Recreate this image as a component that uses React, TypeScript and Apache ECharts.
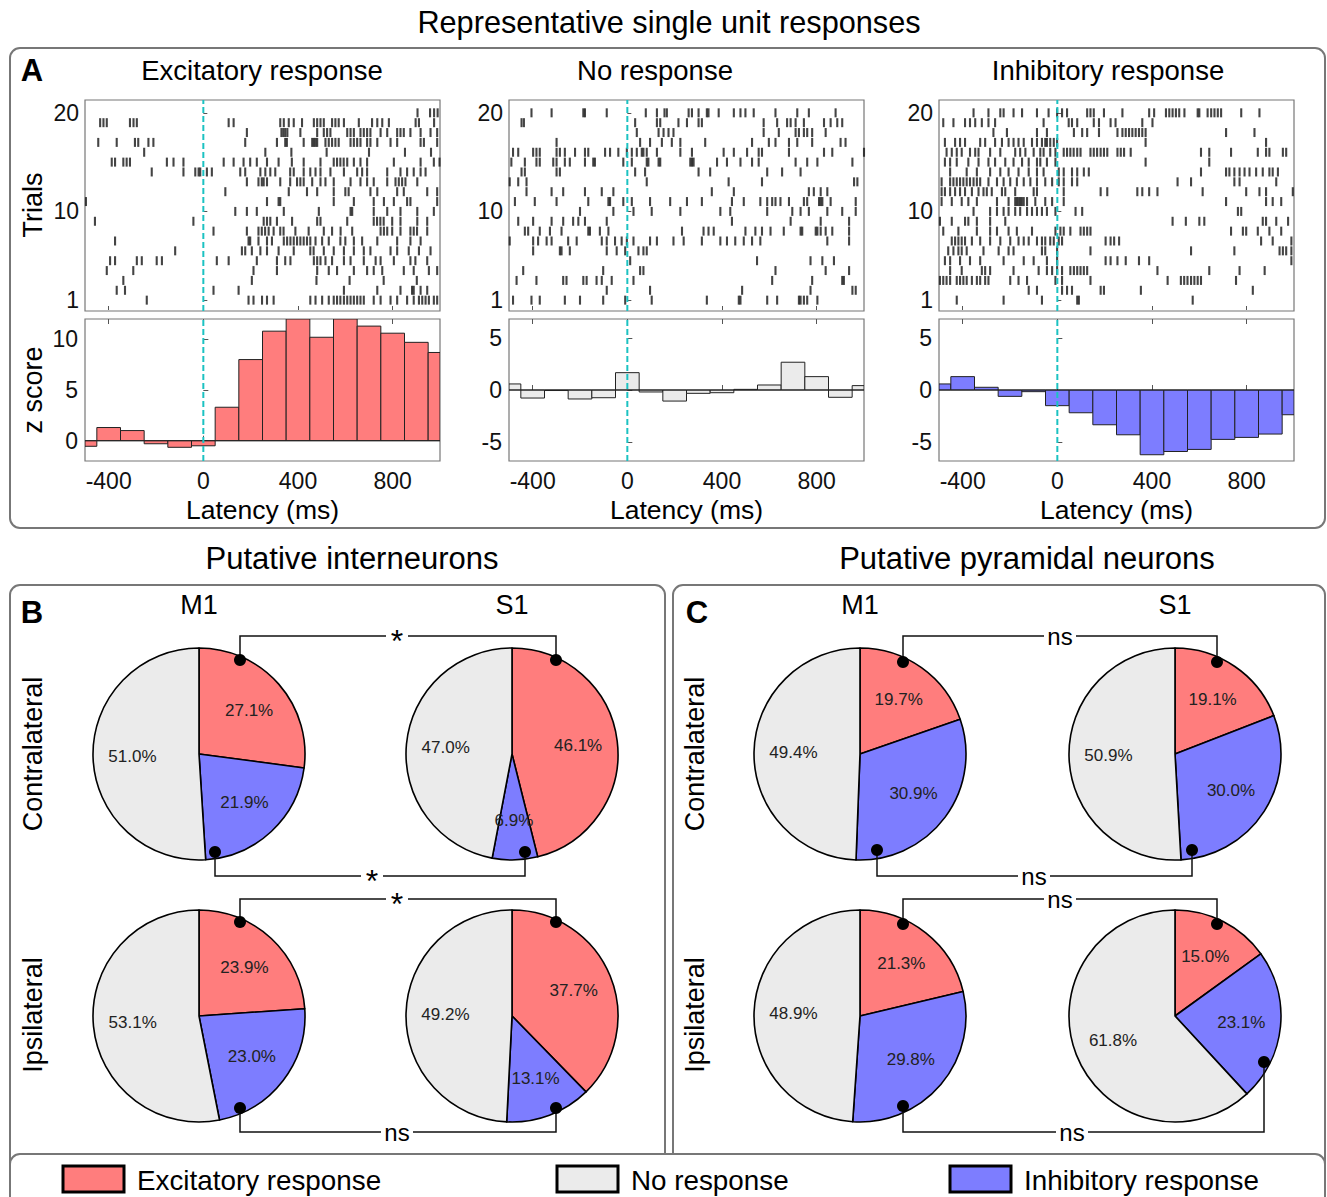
import React, { useEffect, useRef } from "react";
import * as echarts from "echarts";

const FONT = "Liberation Sans, Arial, Helvetica, sans-serif";

// ---------- Panel A data ----------
// spike times (ms) per trial, listed from trial 20 (top) down to trial 1 (bottom)
const excitatorySpikes: number[][] = [
  [905, 958, 975, 990],
  [-436, -422, -408, -310, -295, -281, 107, 128, 325, 340, 361, 382, 417, 467, 481, 495, 509, 544, 558, 572, 594, 657, 713, 735, 756, 784, 897, 911, 975],
  [184, 330, 338, 346, 355, 410, 481, 509, 523, 537, 608, 622, 636, 664, 678, 692, 706, 749, 777, 819, 833, 847, 875, 918, 960, 988],
  [-444, -366, -289, -275, -232, -211, 177, 311, 346, 353, 424, 460, 467, 474, 481, 516, 530, 544, 558, 572, 622, 636, 650, 664, 692, 706, 735, 791, 819, 918, 932, 988],
  [-250, 262, 372, 521, 700, 852, 962],
  [-387, -373, -338, -324, -310, -154, -126, -84, 86, 128, 170, 198, 226, 269, 318, 374, 424, 495, 551, 565, 579, 593, 608, 636, 664, 692, 805, 918, 974, 998],
  [-218, -84, -34, -20, -13, 15, 36, 156, 177, 241, 262, 283, 304, 367, 382, 424, 452, 474, 495, 537, 594, 650, 671, 692, 777, 833, 861, 889, 918, 939],
  [184, 233, 247, 255, 269, 325, 367, 396, 410, 424, 460, 495, 516, 551, 622, 664, 692, 720, 777, 812, 826, 840, 854, 904],
  [93, 361, 438, 481, 551, 600, 614, 706, 735, 819, 847, 946, 988],
  [-496, 269, 318, 325, 551, 636, 720, 763, 805, 861, 875, 988],
  [135, 184, 226, 340, 488, 622, 629, 720, 777, 833, 904, 974],
  [-458, -42, 255, 269, 283, 311, 375, 481, 495, 608, 720, 734, 748, 762, 798, 833, 904, 946],
  [43, 184, 233, 247, 261, 276, 297, 325, 339, 389, 445, 509, 544, 580, 629, 749, 763, 777, 798, 833, 875, 889, 903, 946],
  [-373, 191, 198, 233, 269, 290, 340, 354, 368, 382, 396, 410, 424, 438, 452, 474, 502, 530, 579, 600, 636, 671, 735, 819, 875, 918],
  [-119, 163, 177, 205, 241, 269, 318, 382, 452, 466, 509, 551, 594, 636, 678, 706, 791, 819, 868, 911, 960],
  [-394, -373, -281, -260, -197, -175, 57, 107, 226, 311, 346, 368, 467, 481, 495, 516, 544, 594, 622, 678, 728, 749, 805, 875, 896, 946],
  [-408, -296, 212, 311, 481, 530, 565, 636, 692, 720, 756, 847, 889, 953, 988],
  [-338, 205, 478, 618, 762, 902],
  [-366, -331, 43, 149, 594, 735, 833, 882, 889, 918, 946],
  [-239, 191, 212, 248, 269, 297, 452, 474, 502, 530, 551, 565, 579, 594, 608, 622, 636, 650, 664, 678, 720, 749, 791, 819, 861, 889, 911, 925, 939, 953, 974, 988],
];

const noResponseSpikes: number[][] = [
  [-405, -320, -186, -179, -87, 78, 125, 157, 167, 259, 273, 301, 336, 343, 386, 450, 478, 499, 534, 626, 718, 767, 880],
  [-447, -437, 33, 125, 139, 216, 252, 301, 315, 576, 633, 675, 690, 711, 746, 831, 859, 887, 908],
  [40, 132, 153, 174, 195, 576, 640, 711, 725, 746, 760, 781, 838],
  [-299, 54, 96, 146, 188, 224, 329, 527, 598, 626, 683, 718, 781, 901, 922],
  [-483, -461, -398, -384, -370, -299, -285, -264, -221, -179, -165, -94, -73, -38, -2, 19, 40, 61, 68, 82, 125, 224, 273, 407, 450, 506, 555, 569, 683, 831, 866, 1000],
  [-490, -433, -384, -370, -313, -299, -264, -243, -179, -144, -137, -17, 19, 82, 89, 132, 139, 266, 273, 280, 379, 421, 478, 527, 555, 711, 760, 803, 951],
  [-447, -433, -299, -285, 33, 75, 301, 350, 591, 654, 732],
  [-497, -461, -426, 82, 428, 569, 958, 972],
  [-426, -320, -271, -179, -108, -59, 357, 450, 767, 788, 817, 845],
  [-475, -391, -299, -165, -80, -73, -17, 19, 96, 181, 252, 315, 442, 492, 562, 591, 612, 626, 647, 683, 746, 760, 810, 817, 824, 859, 965],
  [-200, -59, 26, 103, 224, 393, 435, 591, 697, 732, 767, 845, 908, 965],
  [-461, -398, -320, -271, -229, -207, -179, -87, 442, 690, 817, 937],
  [-433, -419, -370, -327, -278, -165, -158, -116, -80, 231, 322, 343, 365, 499, 541, 569, 605, 661, 732, 739, 796, 803, 817, 838, 866, 937],
  [-497, -398, -377, -341, -320, -250, -214, -108, -87, -52, -24, -2, 26, 96, 125, 195, 238, 315, 393, 421, 456, 492, 527, 562, 845, 937],
  [-398, -285, -278, -243, -87, -45, -9, 47, 68, 82],
  [12, 548, 774, 824, 873],
  [-440, -102, 54, 68, 626, 838, 937],
  [-468, -384, -271, -257, -186, -172, -130, -108, -66, 26, 612, 781, 908, 915],
  [-87, 96, 485, 774, 951, 965],
  [-483, -405, -370, -264, -200, -102, -9, 103, 336, 471, 478, 591, 633, 725, 732, 746, 760, 803],
];

const inhibitorySpikes: number[][] = [
  [-354, -291, -241, -227, -185, -149, -86, -37, -1, 20, 41, 126, 140, 154, 197, 275, 388, 409, 459, 473, 487, 501, 515, 537, 593, 600, 635, 650, 664, 678, 692, 777, 854],
  [-482, -439, -390, -369, -347, -319, -291, -263, -58, 48, 62, 84, 154, 176, 225, 246, 359, 402],
  [-270, -213, -86, -44, 70, 105, 126, 176, 254, 275, 289, 303, 317, 331, 345, 359, 373, 713, 833],
  [-475, -432, -411, -390, -326, -305, -263, -234, -206, -185, -164, -142, -107, -86, -65, -51, -44, -30, -15, -1, 373, 882],
  [-468, -446, -425, -404, -369, -347, -333, -284, -241, -178, -157, -135, -100, -72, -58, -30, -8, 27, 41, 55, 69, 84, 98, 140, 154, 168, 183, 197, 211, 254, 268, 282, 310, 607, 642, 734, 847, 882, 896, 953, 967],
  [-475, -453, -425, -376, -333, -291, -263, -220, -185, -149, -121, -86, -72, -44, -8, 373, 642],
  [-453, -383, -340, -284, -241, -206, -164, -121, -86, -58, 6, 27, 62, 84, 112, 133, 607, 713, 727, 748, 770, 791, 812, 840, 868, 896, 910, 932],
  [-489, -453, -439, -425, -411, -397, -383, -369, -354, -340, -326, -291, -255, -227, -199, -171, -142, -114, -86, -51, -22, 6, 27, 62, 84, 508, 565, 748, 770, 925],
  [-489, -475, -453, -432, -411, -390, -361, -333, -312, -298, -277, -234, -220, -178, -100, -86, 27, 183, 211, 338, 359, 388, 423, 614, 798, 854, 882, 995],
  [-489, -446, -404, -376, -340, -255, -206, -178, -171, -164, -157, -150, -142, -128, -93, -51, -22, 27, 713, 882, 910, 946],
  [-354, -284, -255, -227, -206, -178, -157, -128, -107, -86, -65, -44, -8, 77, 105, 763, 777],
  [-496, -446, -390, -376, -340, -284, -220, 487, 543, 600, 621, 868, 882, 925, 975],
  [-482, -418, -340, -284, -255, -206, -171, -107, -8, 13, 27, 55, 98, 112, 126, 140, 734, 784, 798, 847, 896, 946],
  [-446, -432, -418, -404, -390, -361, -326, -284, -241, -199, -164, -142, -121, -86, -65, -51, -30, -15, 6, 20, 204, 225, 240, 261, 861, 910, 989],
  [-461, -439, -418, -404, -383, -312, -248, -206, -185, -65, -51, -1, 140, 565, 748, 939, 953, 967, 989],
  [-475, -453, -411, -369, -326, -227, -142, -100, -44, -1, 204, 225, 254, 289, 345, 388, 989],
  [-453, -404, -319, -305, -284, -185, -79, -44, -22, -1, 20, 55, 70, 84, 98, 112, 126, 423, 642, 770, 876],
  [-496, -482, -468, -453, -425, -411, -397, -383, -361, -340, -326, -305, -291, -199, -164, -128, -8, 20, 140, 466, 522, 536, 550, 565, 579, 593, 607, 755],
  [-121, -86, 20, 41, 62, 183, 197, 353, 826],
  [-425, -227, -65, 84, 91, 572],
];

// PSTH bins (bin centres, ms) and z scores
const binCenters = [-500, -400, -300, -200, -100, 0, 100, 200, 300, 400, 500, 600, 700, 800, 900, 1000];
const excitatoryZ = [-0.55, 1.3, 1.0, -0.3, -0.65, -0.5, 3.3, 8.0, 10.8, 12.0, 10.2, 12.0, 11.3, 10.6, 9.7, 8.7];
const noResponseZ = [0.58, -0.77, -0.05, -0.86, -0.74, 1.66, -0.19, -1.06, -0.32, -0.26, 0.06, 0.48, 2.66, 1.28, -0.7, 0.42];
const inhibitoryZ = [0.58, 1.28, 0.26, -0.61, -0.16, -1.5, -2.18, -3.33, -4.29, -6.2, -5.89, -5.69, -4.73, -4.54, -4.22, -2.37];

const latencyTicks = [-400, 0, 400, 800];
const trialTicks = [1, 10, 20];
const unitTitles = ["Excitatory response", "No response", "Inhibitory response"];

// ---------- Panels B & C data: [excitatory, inhibitory, no response] % ----------
const intM1Contra = [27.1, 21.9, 51.0];
const intS1Contra = [46.1, 6.9, 47.0];
const intM1Ipsi = [23.9, 23.0, 53.1];
const intS1Ipsi = [37.7, 13.1, 49.2];
const pyrM1Contra = [19.7, 30.9, 49.4];
const pyrS1Contra = [19.1, 30.0, 50.9];
const pyrM1Ipsi = [21.3, 29.8, 48.9];
const pyrS1Ipsi = [15.0, 23.1, 61.8];

const RED = "#FF7D7D";
const BLUE = "#7D7DFF";
const GRAY = "#EBEBEB";
const CYAN = "#1CC2C2";

export default function App() {
  const ref = useRef<HTMLDivElement>(null);

  useEffect(() => {
    if (!ref.current) return;
    const chart = echarts.init(ref.current, undefined, { renderer: "svg" });

    const lefts = [85, 509, 939];
    const gw = 355;
    const units = [
      { spikes: excitatorySpikes, z: excitatoryZ, color: RED, ymin: -2, ymax: 12, yt: [0, 5, 10] },
      { spikes: noResponseSpikes, z: noResponseZ, color: GRAY, ymin: -6.8, ymax: 6.8, yt: [-5, 0, 5] },
      { spikes: inhibitorySpikes, z: inhibitoryZ, color: BLUE, ymin: -6.8, ymax: 6.8, yt: [-5, 0, 5] },
    ];
    const titleX = [262, 655, 1108];

    const grid: any[] = [];
    const xAxis: any[] = [];
    const yAxis: any[] = [];
    const series: any[] = [];

    const tickStyle = { color: "#555", width: 1 };
    const labelStyle = { fontSize: 23, color: "#111", fontFamily: FONT };
    const RMIN = -0.1;
    const RMAX = 21.3;

    units.forEach((u, k) => {
      grid.push({ left: lefts[k], top: 100, width: gw, height: 211, show: true, borderColor: "#777", borderWidth: 1.2, backgroundColor: "#fff" });
    });
    units.forEach((u, k) => {
      grid.push({ left: lefts[k], top: 319, width: gw, height: 142, show: true, borderColor: "#777", borderWidth: 1.2, backgroundColor: "#fff" });
    });

    units.forEach((u, k) => {
      xAxis.push({
        gridIndex: k, type: "value", min: -500, max: 1000,
        axisLine: { show: false }, splitLine: { show: false },
        axisTick: { show: true, inside: true, length: 4, lineStyle: tickStyle, customValues: latencyTicks },
        axisLabel: { show: false },
      });
      yAxis.push({
        gridIndex: k, type: "value", min: RMIN, max: RMAX,
        axisLine: { show: false }, splitLine: { show: false },
        axisTick: { show: true, inside: true, length: 4, lineStyle: tickStyle, customValues: trialTicks },
        axisLabel: { ...labelStyle, margin: 6, customValues: trialTicks },
      });
    });
    units.forEach((u, k) => {
      xAxis.push({
        gridIndex: k + 3, type: "value", min: -500, max: 1000,
        axisLine: { show: false }, splitLine: { show: false },
        axisTick: { show: true, inside: true, length: 5, lineStyle: tickStyle, customValues: latencyTicks },
        axisLabel: { ...labelStyle, margin: 8, customValues: latencyTicks },
      });
      yAxis.push({
        gridIndex: k + 3, type: "value", min: u.ymin, max: u.ymax,
        axisLine: { show: false }, splitLine: { show: false },
        axisTick: { show: true, inside: true, length: 5, lineStyle: tickStyle, customValues: u.yt },
        axisLabel: { ...labelStyle, margin: 7, customValues: u.yt },
      });
    });
    // top ticks of the histogram boxes
    units.forEach((u, k) => {
      xAxis.push({
        gridIndex: k + 3, type: "value", min: -500, max: 1000, position: "top",
        axisLine: { show: false }, splitLine: { show: false },
        axisTick: { show: true, inside: true, length: 5, lineStyle: tickStyle, customValues: latencyTicks },
        axisLabel: { show: false },
      });
    });

    units.forEach((u, k) => {
      const pts: number[][] = [];
      u.spikes.forEach((row, i) => {
        const trial = 20 - i;
        row.forEach((t) => pts.push([t, trial]));
      });
      series.push({
        type: "scatter", xAxisIndex: k, yAxisIndex: k, data: pts, symbol: "rect",
        symbolSize: [2.1, 9], itemStyle: { color: "#151515" }, silent: true, clip: true,
      });
      series.push({
        type: "line", xAxisIndex: k, yAxisIndex: k, data: [[0, RMIN], [0, RMAX]], symbol: "none", silent: true,
        lineStyle: { color: CYAN, width: 2, type: [6, 3] }, z: 5,
      });
      const hist = binCenters.map((c, i) => [c, u.z[i]]);
      series.push({
        type: "custom", xAxisIndex: k + 3, yAxisIndex: k + 3, data: hist, clip: true, silent: true,
        renderItem: (params: any, api: any) => {
          const c = api.value(0);
          const z = api.value(1);
          const x0 = Math.max(c - 50, -500);
          const x1 = Math.min(c + 50, 1000);
          const p0 = api.coord([x0, z]);
          const p1 = api.coord([x1, 0]);
          return {
            type: "rect",
            shape: { x: p0[0], y: Math.min(p0[1], p1[1]), width: p1[0] - p0[0], height: Math.abs(p1[1] - p0[1]) },
            style: { fill: u.color, stroke: "#222", lineWidth: 1 },
          };
        },
      });
      series.push({
        type: "line", xAxisIndex: k + 3, yAxisIndex: k + 3, data: [[-500, 0], [1000, 0]], symbol: "none", silent: true,
        lineStyle: { color: "#222", width: 1 }, z: 4,
      });
      series.push({
        type: "line", xAxisIndex: k + 3, yAxisIndex: k + 3, data: [[0, u.ymin], [0, u.ymax]], symbol: "none", silent: true,
        lineStyle: { color: CYAN, width: 2, type: [6, 3] }, z: 5,
      });
    });

    // ---------- pies ----------
    const R = 106;
    const pies = [
      { v: intM1Contra, c: [199, 754] },
      { v: intS1Contra, c: [512, 754] },
      { v: intM1Ipsi, c: [199, 1016] },
      { v: intS1Ipsi, c: [512, 1016] },
      { v: pyrM1Contra, c: [860, 754] },
      { v: pyrS1Contra, c: [1175, 754] },
      { v: pyrM1Ipsi, c: [860, 1016] },
      { v: pyrS1Ipsi, c: [1175, 1016] },
    ];
    const colors = [RED, BLUE, GRAY];
    pies.forEach((p) => {
      series.push({
        type: "pie", center: p.c, radius: R, startAngle: 90, clockwise: true, silent: true,
        label: { show: false }, labelLine: { show: false }, emphasis: { disabled: true },
        itemStyle: { borderColor: "#000", borderWidth: 1.6 },
        data: p.v.map((v, i) => ({ value: v, itemStyle: { color: colors[i] } })),
        z: 3,
      });
      series.push({
        type: "pie", center: p.c, radius: R * 1.2, startAngle: 90, clockwise: true, silent: true,
        labelLine: { show: false }, emphasis: { disabled: true },
        itemStyle: { color: "rgba(0,0,0,0)", borderWidth: 0 },
        label: {
          show: true, position: "inside", fontSize: 17, color: "#222", fontFamily: FONT,
          formatter: (d: any) => d.value.toFixed(1) + "%",
        },
        data: p.v.map((v) => ({ value: v })),
        z: 4,
      });
    });

    // ---------- graphics ----------
    const g: any[] = [];
    const txt = (x: number, y: number, text: string, size: number, extra: any = {}) => ({
      type: "text", x, y, z: 20, silent: true, rotation: extra.rotation || 0,
      style: {
        text, fontSize: size, fontFamily: FONT, fill: "#000", align: "center", verticalAlign: "middle",
        fontWeight: extra.bold ? "bold" : "normal",
      },
    });
    const box = (x: number, y: number, w: number, h: number, z = 0, fill = "none") => ({
      type: "rect", z, silent: true, shape: { x, y, width: w, height: h, r: 10 },
      style: { fill, stroke: "#777", lineWidth: 2 },
    });

    g.push(box(10, 48, 1315, 480));
    g.push(box(10, 585, 655, 620));
    g.push(box(673, 585, 652, 620));
    g.push(box(10, 1154, 1315, 80, 30, "#fff"));

    g.push(txt(669, 22, "Representative single unit responses", 30.7));
    g.push(txt(32, 70, "A", 31, { bold: true }));
    g.push(txt(32, 612, "B", 31, { bold: true }));
    g.push(txt(697, 612, "C", 31, { bold: true }));
    unitTitles.forEach((t, k) => g.push(txt(titleX[k], 70, t, 27.5)));
    lefts.forEach((l) => g.push(txt(l + gw / 2, 510, "Latency (ms)", 26.5)));
    g.push(txt(33, 205, "Trials", 27, { rotation: Math.PI / 2 }));
    g.push(txt(33, 390, "z score", 27, { rotation: Math.PI / 2 }));

    g.push(txt(352, 558, "Putative interneurons", 31));
    g.push(txt(1027, 558, "Putative pyramidal neurons", 31));
    [199, 860].forEach((x) => g.push(txt(x, 605, "M1", 27)));
    [512, 1175].forEach((x) => g.push(txt(x, 605, "S1", 27)));
    [33, 695].forEach((x) => {
      g.push(txt(x, 754, "Contralateral", 27, { rotation: Math.PI / 2 }));
      g.push(txt(x, 1015, "Ipsilateral", 27, { rotation: Math.PI / 2 }));
    });

    const brackets = [
      { a: [240, 660], b: [556, 660], y: 636, label: "*", lx: 397 },
      { a: [215, 852], b: [525, 852], y: 876, label: "*", lx: 372 },
      { a: [240, 922], b: [556, 922], y: 899, label: "*", lx: 397 },
      { a: [240, 1108], b: [556, 1108], y: 1132, label: "ns", lx: 397 },
      { a: [903, 662], b: [1217, 662], y: 636, label: "ns", lx: 1060 },
      { a: [877, 850], b: [1192, 850], y: 876, label: "ns", lx: 1034 },
      { a: [903, 924], b: [1217, 924], y: 899, label: "ns", lx: 1060 },
      { a: [903, 1106], b: [1264, 1062], y: 1132, label: "ns", lx: 1072 },
    ];
    brackets.forEach((b) => {
      const gap = b.label === "*" ? 11 : 16;
      const ls = { stroke: "#111", lineWidth: 1.5, fill: "none" };
      g.push({ type: "polyline", z: 15, silent: true, shape: { points: [b.a, [b.a[0], b.y], [b.lx - gap, b.y]] }, style: ls });
      g.push({ type: "polyline", z: 15, silent: true, shape: { points: [[b.lx + gap, b.y], [b.b[0], b.y], b.b] }, style: ls });
      g.push(txt(b.lx, b.label === "*" ? b.y + 5 : b.y, b.label, b.label === "*" ? 32 : 24));
      [b.a, b.b].forEach((d) => g.push({ type: "circle", z: 16, silent: true, shape: { cx: d[0], cy: d[1], r: 6 }, style: { fill: "#000" } }));
    });

    const legendItems = [
      { x: 63, label: "Excitatory response", color: RED },
      { x: 557, label: "No response", color: GRAY },
      { x: 950, label: "Inhibitory response", color: BLUE },
    ];
    legendItems.forEach((it) => {
      g.push({ type: "rect", z: 31, silent: true, shape: { x: it.x, y: 1166, width: 61, height: 26 }, style: { fill: it.color, stroke: "#000", lineWidth: 3 } });
      g.push({
        type: "text", z: 31, silent: true, x: it.x + 74, y: 1180,
        style: { text: it.label, fontSize: 27.8, fontFamily: FONT, fill: "#000", align: "left", verticalAlign: "middle" },
      });
    });

    chart.setOption({
      animation: false,
      backgroundColor: "#fff",
      textStyle: { fontFamily: FONT },
      grid, xAxis, yAxis, series, graphic: g,
    });
    return () => chart.dispose();
  }, []);

  return <div ref={ref} style={{ position: "absolute", left: 0, top: 0, width: 1327, height: 1197 }} />;
}
